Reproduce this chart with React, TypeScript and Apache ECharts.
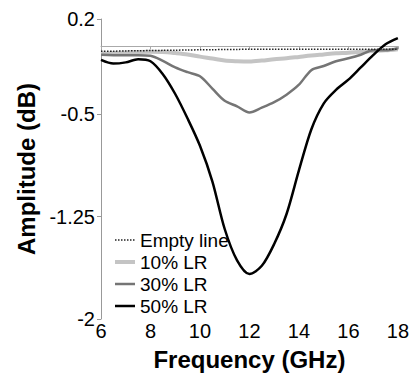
import React, { useEffect, useRef } from "react";
import * as echarts from "echarts";

const frequencies = [6, 6.5, 7, 7.5, 8, 8.5, 9, 9.5, 10, 10.5, 11, 11.5, 12, 12.5, 13, 13.5, 14, 14.5, 15, 15.5, 16, 16.5, 17, 17.5, 18];

const emptyLine = [-0.037, -0.036, -0.034, -0.033, -0.031, -0.03, -0.029, -0.027, -0.026, -0.025, -0.024, -0.023, -0.022, -0.022, -0.021, -0.021, -0.021, -0.021, -0.021, -0.021, -0.021, -0.021, -0.021, -0.021, -0.021];
const lr10 = [-0.056, -0.05, -0.045, -0.042, -0.04, -0.042, -0.05, -0.06, -0.076, -0.09, -0.105, -0.11, -0.112, -0.105, -0.095, -0.088, -0.078, -0.068, -0.06, -0.052, -0.048, -0.04, -0.035, -0.03, -0.022];
const lr30 = [-0.063, -0.065, -0.066, -0.066, -0.07, -0.107, -0.155, -0.19, -0.22, -0.31, -0.4, -0.44, -0.485, -0.45, -0.41, -0.355, -0.282, -0.175, -0.145, -0.11, -0.088, -0.062, -0.03, -0.03, -0.015];
const lr50 = [-0.1, -0.127, -0.118, -0.095, -0.11, -0.205, -0.35, -0.53, -0.73, -0.99, -1.34, -1.57, -1.67, -1.61, -1.45, -1.23, -0.91, -0.61, -0.42, -0.32, -0.245, -0.155, -0.065, 0.015, 0.06];

const yTicks = [-2, -1.25, -0.5, 0.2];
const seriesNames = ["Empty line", "10% LR", "30% LR", "50% LR"];
const seriesColors = ["#222222", "#c4c4c4", "#757575", "#000000"];
const seriesWidths = [1.5, 4, 2.5, 2.5];
const seriesTypes = ["dotted", "solid", "solid", "solid"];

const pairs = (vals: number[]) => frequencies.map((f, i) => [f, vals[i]]);

export default function App() {
  const ref = useRef<HTMLDivElement>(null);
  useEffect(() => {
    document.body.style.margin = "0";
    const chart = echarts.init(ref.current!, null, { renderer: "svg" });
    const font = "Liberation Sans, Arial, sans-serif";
    const values = [emptyLine, lr10, lr30, lr50];
    const zs = [5, 2, 3, 4];
    chart.setOption({
      animation: false,
      backgroundColor: "#ffffff",
      textStyle: { fontFamily: font },
      grid: { left: 101, right: 13, top: 19, bottom: 56, containLabel: false },
      legend: {
        orient: "vertical",
        left: 108,
        top: 225,
        itemWidth: 20,
        itemHeight: 12,
        itemGap: 2,
        data: seriesNames.map((n, i) => ({
          name: n,
          itemStyle: { opacity: 0 },
          lineStyle: { color: seriesColors[i], width: seriesWidths[i], type: seriesTypes[i] },
        })),
        itemStyle: { opacity: 0 },
        textStyle: { fontSize: 19, color: "#000", fontFamily: font, lineHeight: 20 },
      },
      xAxis: {
        type: "value",
        min: 6,
        max: 18,
        interval: 2,
        name: "Frequency (GHz)",
        nameLocation: "middle",
        nameGap: 28,
        nameTextStyle: { fontSize: 24, fontWeight: "bold", color: "#000", fontFamily: font },
        axisLine: { lineStyle: { color: "#aaaaaa", width: 1 } },
        axisTick: { show: true, length: 3, lineStyle: { color: "#aaaaaa" } },
        axisLabel: { fontSize: 20, color: "#000", margin: 2, fontFamily: font },
        splitLine: { show: false },
      },
      yAxis: {
        type: "value",
        min: -2,
        max: 0.2,
        name: "Amplitude (dB)",
        nameLocation: "middle",
        nameGap: 60,
        nameTextStyle: { fontSize: 24, fontWeight: "bold", color: "#000", fontFamily: font },
        axisLine: { show: true, lineStyle: { color: "#999999", width: 1 } },
        axisTick: { show: true, length: 4, customValues: yTicks, lineStyle: { color: "#999999" } },
        axisLabel: { fontSize: 20, color: "#000", margin: 6, customValues: yTicks, fontFamily: font },
        splitLine: { show: false },
      },
      series: seriesNames.map((n, i) => ({
        name: n,
        type: "line",
        data: pairs(values[i]),
        showSymbol: false,
        symbol: "none",
        smooth: 0.3,
        z: zs[i],
        lineStyle: { color: seriesColors[i], width: seriesWidths[i], type: seriesTypes[i] },
        itemStyle: { color: seriesColors[i] },
      })),
    });
    return () => chart.dispose();
  }, []);
  return <div ref={ref} style={{ width: 412, height: 376 }} />;
}
